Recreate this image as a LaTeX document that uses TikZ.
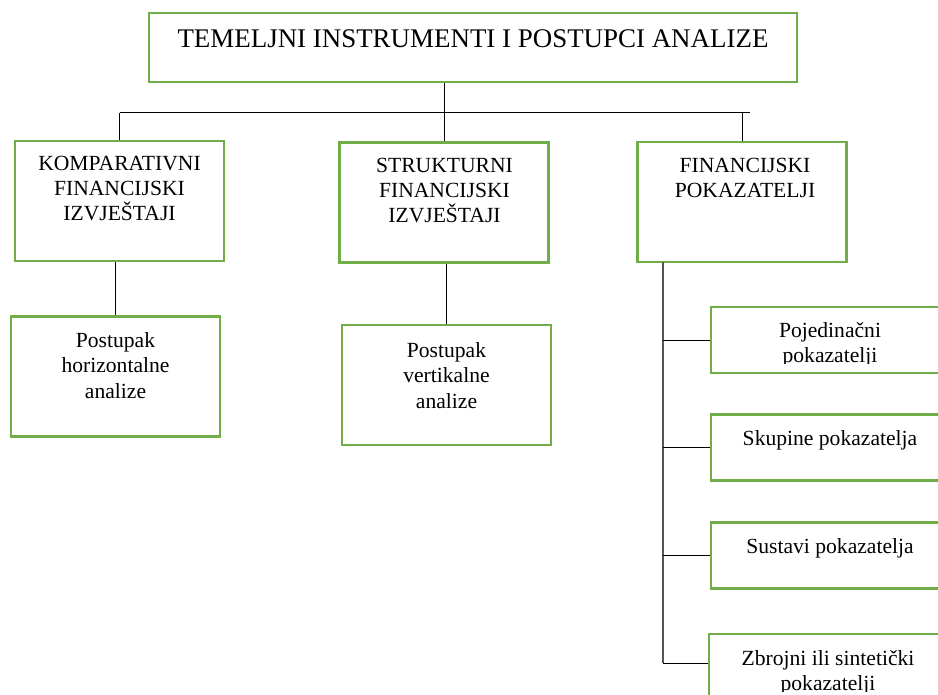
\documentclass[tikz,border=0pt]{standalone}
\usepackage{fontspec}
\setmainfont{Liberation Serif}
\definecolor{zelena}{RGB}{112,173,71}
\definecolor{siva}{RGB}{85,85,85}
\tikzset{
	kutija/.style={draw=zelena, line width=1.6pt, rectangle, inner sep=0pt},
	srednja/.style={minimum width=156.75pt, minimum height=90pt},
	mala/.style={minimum width=178.5pt, minimum height=49.5pt},
	tekst/.style={font=\fontsize{16.2}{19.1}\selectfont, align=center, inner sep=0pt, anchor=base},
	veza/.style={draw=black, line width=0.75pt},
	kicma/.style={draw=siva, line width=1.1pt},
}
\begin{document}
\begin{tikzpicture}[x=0.75pt,y=0.75pt]
	\useasboundingbox (0,0) rectangle (938,-695);
	\clip (0,0) rectangle (938,-695);
	% naslov
	\node[kutija, minimum width=486pt, minimum height=51.75pt] (naslov) at (473,-47.5) {};
	\node[tekst, font=\fontsize{20.2}{24}\selectfont] (naslovt) at (473,-48) {TEMELJNI INSTRUMENTI I POSTUPCI ANALIZE};
	% prva razina (base = zadnji redak)
	\node[kutija, srednja] (kfi) at (119.5,-201) {};
	\node[tekst] (kfit) at (119.5,-221) {KOMPARATIVNI\\FINANCIJSKI\\IZVJEŠTAJI};
	\node[kutija, srednja] (sfi) at (444,-202.5) {};
	\node[tekst] (sfit) at (444.5,-223) {STRUKTURNI\\FINANCIJSKI\\IZVJEŠTAJI};
	\node[kutija, srednja] (fp) at (742,-202) {};
	\node[tekst] (fpt) at (745,-197.5) {FINANCIJSKI\\POKAZATELJI};
	% druga razina
	\node[kutija, srednja] (hor) at (115.5,-376.5) {};
	\node[tekst] (hort) at (115.5,-398) {Postupak\\horizontalne\\analize};
	\node[kutija, srednja] (ver) at (446.5,-385) {};
	\node[tekst] (vert) at (446.5,-408) {Postupak\\vertikalne\\analize};
	% pokazatelji
	\node[kutija, mala] (poj) at (830,-340) {};
	\begin{scope}
		\clip (poj.north west) rectangle (poj.east |- 0,-363);
		\node[tekst] (pojt) at (830,-362.5) {Pojedinačni\\pokazatelji};
	\end{scope}
	\node[kutija, mala] (sku) at (830,-447.5) {};
	\node[tekst] (skut) at (830,-445) {Skupine pokazatelja};
	\node[kutija, mala] (sus) at (830,-555.5) {};
	\node[tekst] (sust) at (830,-553) {Sustavi pokazatelja};
	\node[kutija, mala] (zbr) at (828,-667) {};
	\begin{scope}
		\clip (zbr.north west) rectangle (zbr.east |- 0,-691);
		\node[tekst] (zbrt) at (828,-690.5) {Zbrojni ili sintetički\\pokazatelji};
	\end{scope}
	% veze
	\coordinate (bar) at (0,-113);
	\coordinate (barkraj) at (750,-113);
	\draw[veza] (sfi.north |- naslov.south) -- (sfi.north);
	\draw[veza] (kfi.north |- bar) -- (barkraj);
	\draw[veza] (kfi.north |- bar) -- (kfi.north);
	\draw[veza] (fp.north |- bar) -- (fp.north);
	\draw[veza] (hor.north |- kfi.south) -- (hor.north);
	\draw[veza] (ver.north |- sfi.south) -- (ver.north);
	\coordinate (osvrh) at (663,-262);
	\coordinate (osdno) at (663,-663);
	\draw[kicma] (osvrh) -- (osdno);
	\draw[veza] (osdno |- poj.west) -- (poj.west);
	\draw[veza] (osdno |- sku.west) -- (sku.west);
	\draw[veza] (osdno |- sus.west) -- (sus.west);
	\draw[veza] (osdno) -- (osdno -| zbr.west);
\end{tikzpicture}
\end{document}
